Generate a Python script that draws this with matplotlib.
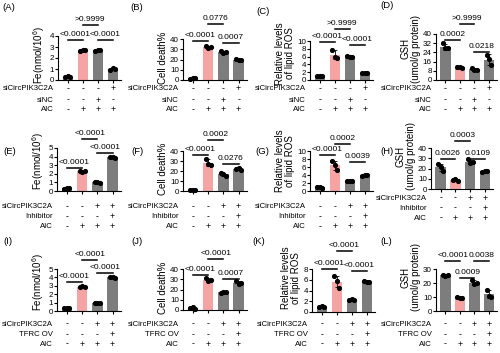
import matplotlib
matplotlib.use('Agg')
import matplotlib.pyplot as plt
import numpy as np
from matplotlib.transforms import blended_transform_factory

plt.rcParams['font.family'] = ['Liberation Sans', 'DejaVu Sans']
plt.rcParams['mathtext.default'] = 'regular'

# ---------------- data ----------------
A_pts = [[0.25, 0.35, 0.30], [2.65, 2.75, 2.70], [2.65, 2.70, 2.75], [0.95, 1.10, 1.00]]
B_pts = [[1.0, 2.0, 1.5], [33.0, 31.0, 32.0], [28.0, 26.0, 27.0], [20.5, 19.5, 20.0]]
C_pts = [[0.9, 1.1, 1.0], [7.8, 6.0, 5.7], [6.2, 5.9, 6.0], [1.9, 1.7, 1.8]]
D_pts = [[32.0, 27.5, 27.5], [11.0, 11.5, 10.5], [10.5, 8.5, 9.0], [22.0, 18.0, 13.0]]
E_pts = [[0.25, 0.35, 0.30], [2.30, 2.25, 2.35], [1.00, 1.05, 0.95], [3.90, 3.95, 3.85]]
F_pts = [[1.0, 1.0, 1.0], [32.0, 27.0, 26.0], [18.0, 17.0, 15.0], [22.0, 23.0, 21.5]]
G_pts = [[1.0, 1.1, 0.8], [7.5, 6.5, 5.3], [2.4, 2.4, 2.4], [3.8, 4.0, 3.9]]
H_pts = [[24.0, 21.0, 18.0], [9.0, 10.0, 8.0], [29.0, 25.0, 26.0], [17.0, 17.5, 17.5]]
I_pts = [[0.40, 0.35, 0.30], [2.90, 3.00, 2.80], [0.95, 1.00, 0.90], [4.00, 4.05, 3.95]]
J_pts = [[1.5, 2.5, 1.0], [31.0, 28.0, 29.0], [17.0, 18.0, 17.5], [28.0, 25.0, 26.0]]
K_pts = [[1.0, 1.1, 0.9], [6.7, 5.8, 4.5], [2.2, 2.4, 2.3], [5.7, 5.5, 5.6]]
L_pts = [[26.0, 25.0, 25.5], [10.0, 9.0, 9.5], [22.0, 19.0, 20.0], [15.0, 11.0, 10.0]]

A_p = ['<0.0001', '>0.9999', '<0.0001']
B_p = ['<0.0001', '0.0776', '0.0007']
C_p = ['<0.0001', '>0.9999', '<0.0001']
D_p = ['0.0002', '>0.9999', '0.0218']
E_p = ['<0.0001', '<0.0001', '<0.0001']
F_p = ['<0.0001', '0.0002', '0.0276']
G_p = ['<0.0001', '0.0002', '0.0039']
H_p = ['0.0026', '0.0003', '0.0109']
I_p = ['<0.0001', '<0.0001', '<0.0001']
J_p = ['<0.0001', '<0.0001', '0.0007']
K_p = ['<0.0001', '<0.0001', '<0.0001']
L_p = ['<0.0001', '0.0009', '0.0038']

comparisons = [(0, 1), (1, 2), (2, 3)]

r1_rows = ['siCircPIK3C2A', 'siNC', 'AIC']
r1_signs = [['-', '-', '-', '+'], ['-', '-', '+', '-'], ['-', '+', '+', '+']]
r2_rows = ['siCircPIK3C2A', 'Inhibitor', 'AIC']
r2_signs = [['-', '-', '+', '+'], ['-', '-', '-', '+'], ['-', '+', '+', '+']]
r3_rows = ['siCircPIK3C2A', 'TFRC OV', 'AIC']
r3_signs = [['-', '-', '+', '+'], ['-', '-', '-', '+'], ['-', '+', '+', '+']]

fe_label = 'Fe(nmol/10$^6$)'
death_label = 'Cell death%'
ros_label = 'Relative levels\nof lipid ROS'
gsh_label = 'GSH\n(umol/g protein)'

GRAY = '#7d7d7d'
PINK = '#F5A3A3'

W, H = 500, 353
fig = plt.figure(figsize=(5, 3.53), dpi=100)

# layout: tag pos, axes px (left, right, zero y, top y), ymax, step, bracket heights,
# y-label centre (axes fraction), table row y px
row1_y = [89, 100, 110]
row2_y = [207, 217, 227]
row3_y = [324, 335, 344]
panels = [
    ('(A)', (2, 7), A_pts, A_p, fe_label, (58, 121, 80, 36), 4, 1, [3.6, 5.0, 3.6], 0.57, r1_rows, r1_signs, row1_y),
    ('(B)', (130, 7), B_pts, B_p, death_label, (183, 247, 80, 39), 40, 10, [38, 55, 36], 0.55, r1_rows, r1_signs, row1_y),
    ('(C)', (256, 12), C_pts, C_p, ros_label, (310, 373, 80, 41), 10, 2, [9.8, 13, 9], 0.68, r1_rows, r1_signs, row1_y),
    ('(D)', (380, 6), D_pts, D_p, gsh_label, (436, 497, 80, 34), 40, 8, [34.8, 49, 24.6], 0.68, r1_rows, r1_signs, row1_y),
    ('(E)', (3, 151), E_pts, E_p, fe_label, (57, 121, 191, 148), 5, 1, [2.7, 6.0, 4.4], 0.70, r2_rows, r2_signs, row2_y),
    ('(F)', (131, 151), F_pts, F_p, death_label, (183, 247, 191, 151), 40, 10, [35.7, 51, 27], 0.56, r2_rows, r2_signs, row2_y),
    ('(G)', (255, 151), G_pts, G_p, ros_label, (310, 373, 191, 151), 10, 2, [8.9, 11.75, 7.25], 0.76, r2_rows, r2_signs, row2_y),
    ('(H)', (380, 151), H_pts, H_p, gsh_label, (431, 493, 189, 148), 40, 10, [29.6, 46.5, 29.6], 0.80, r2_rows, r2_signs, [198, 208, 218]),
    ('(I)', (3, 241), I_pts, I_p, fe_label, (57, 121, 311, 269), 5, 1, [3.4, 6.07, 4.56], 0.70, r3_rows, r3_signs, row3_y),
    ('(J)', (131, 241), J_pts, J_p, death_label, (183, 247, 310, 269), 40, 10, [33.8, 49.4, 30.5], 0.55, r3_rows, r3_signs, row3_y),
    ('(K)', (252, 241), K_pts, K_p, ros_label, (312, 375, 312, 269), 8, 2, [8.0, 11.3, 7.6], 0.79, r3_rows, r3_signs, row3_y),
    ('(L)', (380, 241), L_pts, L_p, gsh_label, (436, 497, 311, 269), 30, 10, [35.7, 23.8, 35.7], 0.81, r3_rows, r3_signs, row3_y),
]

x = np.arange(4)
jitter = [-0.17, 0.0, 0.17]

for tag, tag_xy, pts, pvals, ylab, rect, ymax, step, heights, lab_y, rows, signs, rows_y in panels:
    l, r, y0, yt = rect
    ax = fig.add_axes([l / W, 1 - y0 / H, (r - l) / W, (y0 - yt) / H])
    pts = np.array(pts)
    means = pts.mean(axis=1)
    sds = pts.std(axis=1, ddof=1)
    colors = [GRAY, PINK, GRAY, GRAY]
    ax.bar(x, means, width=0.7, color=colors, zorder=1)
    ax.errorbar(x, means, yerr=sds, fmt='none', ecolor='black', elinewidth=0.6,
                capsize=1.5, capthick=0.6, zorder=2)
    for i in range(4):
        ax.plot(x[i] + np.array(jitter), pts[i], 'o', color='black', ms=2.7, zorder=3,
                clip_on=False)
    ax.set_xlim(-0.65, 3.55)
    ax.set_ylim(0, ymax)
    ax.set_yticks(np.arange(0, ymax + step / 2, step))
    ax.set_xticks(x)
    ax.set_xticklabels([])
    for s in ['top', 'right']:
        ax.spines[s].set_visible(False)
    for s in ['left', 'bottom']:
        ax.spines[s].set_linewidth(0.8)
    ax.tick_params(axis='both', direction='out', length=2, width=0.8, labelsize=5.8, pad=1)
    ax.set_ylabel(ylab, fontsize=7, labelpad=1.5, linespacing=1.0)
    ax.yaxis.label.set_y(lab_y)

    # significance brackets
    for (i, j), p, h in zip(comparisons, pvals, heights):
        ax.plot([x[i], x[j]], [h, h], color='black', lw=1.1, clip_on=False)
        ax.annotate(p, xy=((x[i] + x[j]) / 2, h), xytext=(0, 1.5), textcoords='offset points',
                    ha='center', va='bottom', fontsize=6, annotation_clip=False)

    # treatment table under the axis
    tr = blended_transform_factory(ax.transData, fig.transFigure)
    for name, sg, yp in zip(rows, signs, rows_y):
        yf = 1 - yp / H
        ax.text(-0.95, yf, name, transform=tr, ha='right', va='center', fontsize=5.6)
        for k in range(4):
            ax.text(x[k], yf, sg[k], transform=tr, ha='center', va='center', fontsize=6.3)

    fig.text(tag_xy[0] / W, 1 - tag_xy[1] / H, tag, ha='left', va='center', fontsize=6.8)

fig.savefig('out.png', dpi=100)
